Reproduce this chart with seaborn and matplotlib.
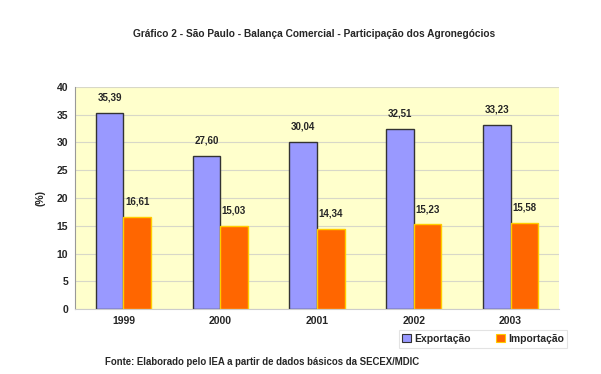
import pandas as pd
import numpy as np
import matplotlib.pyplot as plt
import seaborn as sns
from matplotlib.ticker import FixedLocator

'''DATA'''
anos = ['1999', '2000', '2001', '2002', '2003']
exportacao = [35.39, 27.60, 30.04, 32.51, 33.23]
importacao = [16.61, 15.03, 14.34, 15.23, 15.58]
series = ['Exportação', 'Importação']

df = pd.DataFrame({
    'ano': anos * 2,
    'valor': exportacao + importacao,
    'serie': [series[0]] * len(anos) + [series[1]] * len(anos),
})

'''PLOT'''
sns.set_style('white')
plt.rcParams['font.family'] = ['Liberation Sans', 'DejaVu Sans']

fig = plt.figure(figsize=(6.01, 3.74), dpi=100)
ax = fig.add_axes([75 / 601, 1 - 309 / 374, (559 - 75) / 601, (309 - 87) / 374])

sns.barplot(data=df, x='ano', y='valor', hue='serie', ax=ax, width=0.57,
            palette=['#9999FF', '#FF6600'], saturation=1, legend=False)

# bar edges: dark for exports, yellow for imports
for patch in ax.containers[0]:
    patch.set_edgecolor('#333333')
    patch.set_linewidth(1.0)
for patch in ax.containers[1]:
    patch.set_edgecolor('#FFCC00')
    patch.set_linewidth(1.0)

for container in ax.containers:
    for patch in container:
        h = patch.get_height()
        ax.annotate(f'{h:.2f}'.replace('.', ','),
                    (patch.get_x() + patch.get_width() / 2, h),
                    xytext=(0, 7.5), textcoords='offset points',
                    ha='center', va='bottom', fontsize=7, fontweight='bold')

ax.set_facecolor('#FFFFCC')
ax.set_ylim(0, 40)
ax.set_yticks(np.arange(0, 41, 5))
ax.set_xlim(-0.5, len(anos) - 0.5)
ax.yaxis.grid(True, color='#D8D8C8', linewidth=0.8)
ax.set_axisbelow(True)
for s in ['top', 'right']:
    ax.spines[s].set_visible(False)
ax.spines['left'].set_color('#999999')
ax.spines['bottom'].set_color('#CCCCCC')

ax.set_xlabel('')
ax.set_ylabel('(%)', fontsize=7.5, fontweight='bold', labelpad=8)
ax.tick_params(axis='y', length=3, color='#999999', labelsize=7.5, pad=2)
ax.tick_params(axis='x', length=0, labelsize=7.5, pad=5)
ax.xaxis.set_minor_locator(FixedLocator(np.arange(-0.5, len(anos), 1)))
ax.tick_params(axis='x', which='minor', length=3, color='#CCCCCC')
for lab in ax.get_xticklabels() + ax.get_yticklabels():
    lab.set_fontweight('bold')

fig.text(314 / 601, 1 - 34 / 374,
         'Gráfico 2 - São Paulo - Balança Comercial - Participação dos Agronegócios',
         ha='center', va='center', fontsize=7.3, fontweight='bold')

handles = [plt.Rectangle((0, 0), 1, 1, facecolor='#9999FF', edgecolor='#333333', linewidth=0.8),
           plt.Rectangle((0, 0), 1, 1, facecolor='#FF6600', edgecolor='#FFCC00', linewidth=0.8)]
leg = fig.legend(handles, series, ncol=2, loc='center',
                 bbox_to_anchor=(483 / 601, 1 - 339 / 374),
                 prop={'size': 7.5, 'weight': 'bold'},
                 handlelength=0.8, handleheight=0.8, handletextpad=0.3,
                 columnspacing=2.5, frameon=True, fancybox=False,
                 borderpad=0.35)
leg.get_frame().set_edgecolor('#DDDDDD')
leg.get_frame().set_linewidth(0.8)

fig.text(262 / 601, 1 - 362 / 374,
         'Fonte: Elaborado pelo IEA a partir de dados básicos da SECEX/MDIC',
         ha='center', va='center', fontsize=6.9, fontweight='bold')

fig.savefig('out.png', dpi=100)
